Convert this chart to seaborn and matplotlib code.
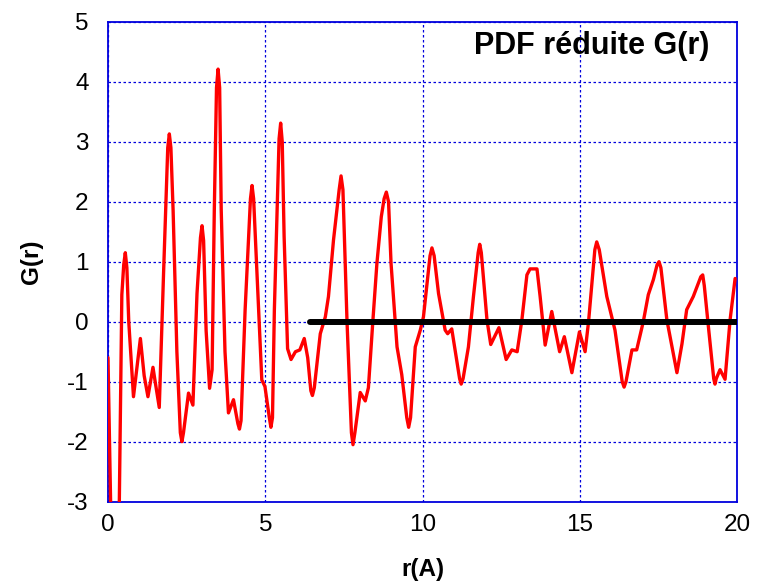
import matplotlib
matplotlib.use("Agg")
import matplotlib.pyplot as plt
import seaborn as sns
import pandas as pd

r_values = [0.0, 0.1, 0.2, 0.36, 0.44, 0.50, 0.55, 0.60, 0.66, 0.81, 1.03, 1.15, 1.27, 1.43, 1.5, 1.63,
            1.77, 1.90, 1.95, 2.00, 2.07, 2.19, 2.30, 2.35, 2.40, 2.56, 2.70, 2.83, 2.94, 2.99, 3.04,
            3.12, 3.23, 3.31, 3.38, 3.45, 3.50, 3.55, 3.60, 3.72, 3.83, 3.99, 4.13, 4.18, 4.23,
            4.36, 4.53, 4.58, 4.63, 4.74, 4.89, 4.99, 5.13, 5.18, 5.23, 5.29,
            5.44, 5.49, 5.54, 5.60, 5.71, 5.82, 5.96, 6.10, 6.24, 6.35, 6.45, 6.50, 6.56, 6.75,
            6.91, 7.01, 7.17, 7.35, 7.41, 7.47, 7.60, 7.74, 7.79, 7.85, 8.02, 8.18, 8.28, 8.42,
            8.55, 8.69, 8.78, 8.85, 8.92, 9.00, 9.19, 9.34, 9.50, 9.56, 9.62, 9.77, 9.93, 10.03,
            10.24, 10.30, 10.37, 10.51, 10.72, 10.80, 10.93, 11.18, 11.23, 11.29, 11.46, 11.62,
            11.77, 11.82, 11.87, 12.05, 12.17, 12.43, 12.66, 12.84, 13.01, 13.16, 13.32, 13.42,
            13.64, 13.74, 13.90, 14.11, 14.36, 14.51, 14.75, 14.99, 15.17, 15.28, 15.48, 15.54,
            15.62, 15.86, 16.12, 16.35, 16.41, 16.47, 16.66, 16.81, 17.02, 17.18, 17.34, 17.46,
            17.52, 17.58, 17.77, 18.09, 18.25, 18.40, 18.61, 18.85, 18.91, 18.96, 19.09, 19.26,
            19.30, 19.34, 19.46, 19.62, 19.78, 19.94]
g_values = [-0.6, -3.5, -4.3, -3.0, 0.45, 0.95, 1.15, 0.9, 0.0, -1.25, -0.28, -0.9, -1.25, -0.76, -1.0, -1.43,
            0.86, 2.9, 3.13, 2.9, 1.86, -0.5, -1.85, -2.0, -1.85, -1.19, -1.39, 0.47, 1.4, 1.60, 1.35,
            -0.15, -1.11, -0.8, 1.86, 3.9, 4.21, 3.9, 1.86, -0.5, -1.52, -1.30, -1.7, -1.79, -1.65,
            0.2, 2.05, 2.27, 2.05, 0.78, -0.97, -1.08, -1.6, -1.76, -1.6, 0.2,
            3.05, 3.31, 3.0, 1.42, -0.45, -0.63, -0.5, -0.47, -0.28, -0.6, -1.15, -1.23, -1.1, -0.2,
            0.08, 0.42, 1.36, 2.2, 2.43, 2.2, 0.0, -1.85, -2.05, -1.85, -1.18, -1.32, -1.1, 0.0,
            0.97, 1.75, 2.05, 2.16, 2.0, 0.97, -0.42, -0.88, -1.6, -1.76, -1.6, -0.42, -0.14, 0.08,
            1.1, 1.23, 1.1, 0.47, -0.14, -0.2, -0.12, -0.95, -1.04, -0.95, -0.42, 0.42,
            1.15, 1.29, 1.15, 0.03, -0.38, -0.1, -0.63, -0.47, -0.5, 0.03, 0.78, 0.88,
            0.88, 0.42, -0.39, 0.17, -0.5, -0.25, -0.85, -0.17, -0.5, 0.0, 1.2, 1.33,
            1.2, 0.42, -0.14, -1.0, -1.09, -1.0, -0.47, -0.47, 0.0, 0.45, 0.7, 0.95,
            1.0, 0.9, 0.03, -0.85, -0.37, 0.2, 0.42, 0.75, 0.78, 0.6, -0.08, -0.95,
            -1.04, -0.95, -0.8, -0.96, 0.03, 0.72]

zero_r = [6.43, 20.0]
zero_g = [0.0, 0.0]

x_ticks = [0, 5, 10, 15, 20]
y_ticks = [-3, -2, -1, 0, 1, 2, 3, 4, 5]

title_text = "PDF réduite G(r)"
x_label = "r(A)"
y_label = "G(r)"

sns.set_style("white")
plt.rcParams['font.family'] = ['Liberation Sans', 'DejaVu Sans']
plt.rcParams['text.color'] = 'black'
plt.rcParams['axes.labelcolor'] = 'black'

fig = plt.figure(figsize=(7.64, 5.85), dpi=100)
ax = fig.add_axes([108 / 764, 1 - 501.7 / 585, (737 - 108) / 764, (501.7 - 21.7) / 585])

df = pd.DataFrame({"r": r_values, "G": g_values})
dz = pd.DataFrame({"r": zero_r, "G": zero_g})

sns.lineplot(data=df, x="r", y="G", sort=False, color="#ff0000", linewidth=2.4, ax=ax, zorder=3)
sns.lineplot(data=dz, x="r", y="G", sort=False, color="black", linewidth=4.3, ax=ax, zorder=4)

ax.set_xlim(0, 20)
ax.set_ylim(-3, 5)
ax.set_xticks(x_ticks)
ax.set_yticks(y_ticks)
ax.set_xticklabels([str(t) for t in x_ticks])
ax.set_yticklabels([str(t) for t in y_ticks])

ax.grid(True, color="#0000dd", linestyle=(0, (2, 2)), linewidth=0.9)
ax.set_axisbelow(True)
for s in ax.spines.values():
    s.set_color("#0000dd")
    s.set_linewidth(1.3)

ax.tick_params(axis="both", direction="in", length=5, color="#0000dd", labelsize=17.5,
               labelcolor="black")
ax.tick_params(axis="y", pad=14)
ax.tick_params(axis="x", pad=9)

ax.set_xlabel(x_label, fontsize=17.5, fontweight="bold", color="black")
ax.set_ylabel(y_label, fontsize=17.5, fontweight="bold", color="black")
ax.xaxis.set_label_coords(0.5, -0.142)
ax.yaxis.set_label_coords(-0.122, 0.5)
ax.xaxis.label.set_va("center")
ax.yaxis.label.set_va("center")

ax.text(19.11, 4.6, title_text, fontsize=22, fontweight="bold", ha="right", va="center",
        color="black", zorder=5)

fig.savefig("out.png", dpi=100)
